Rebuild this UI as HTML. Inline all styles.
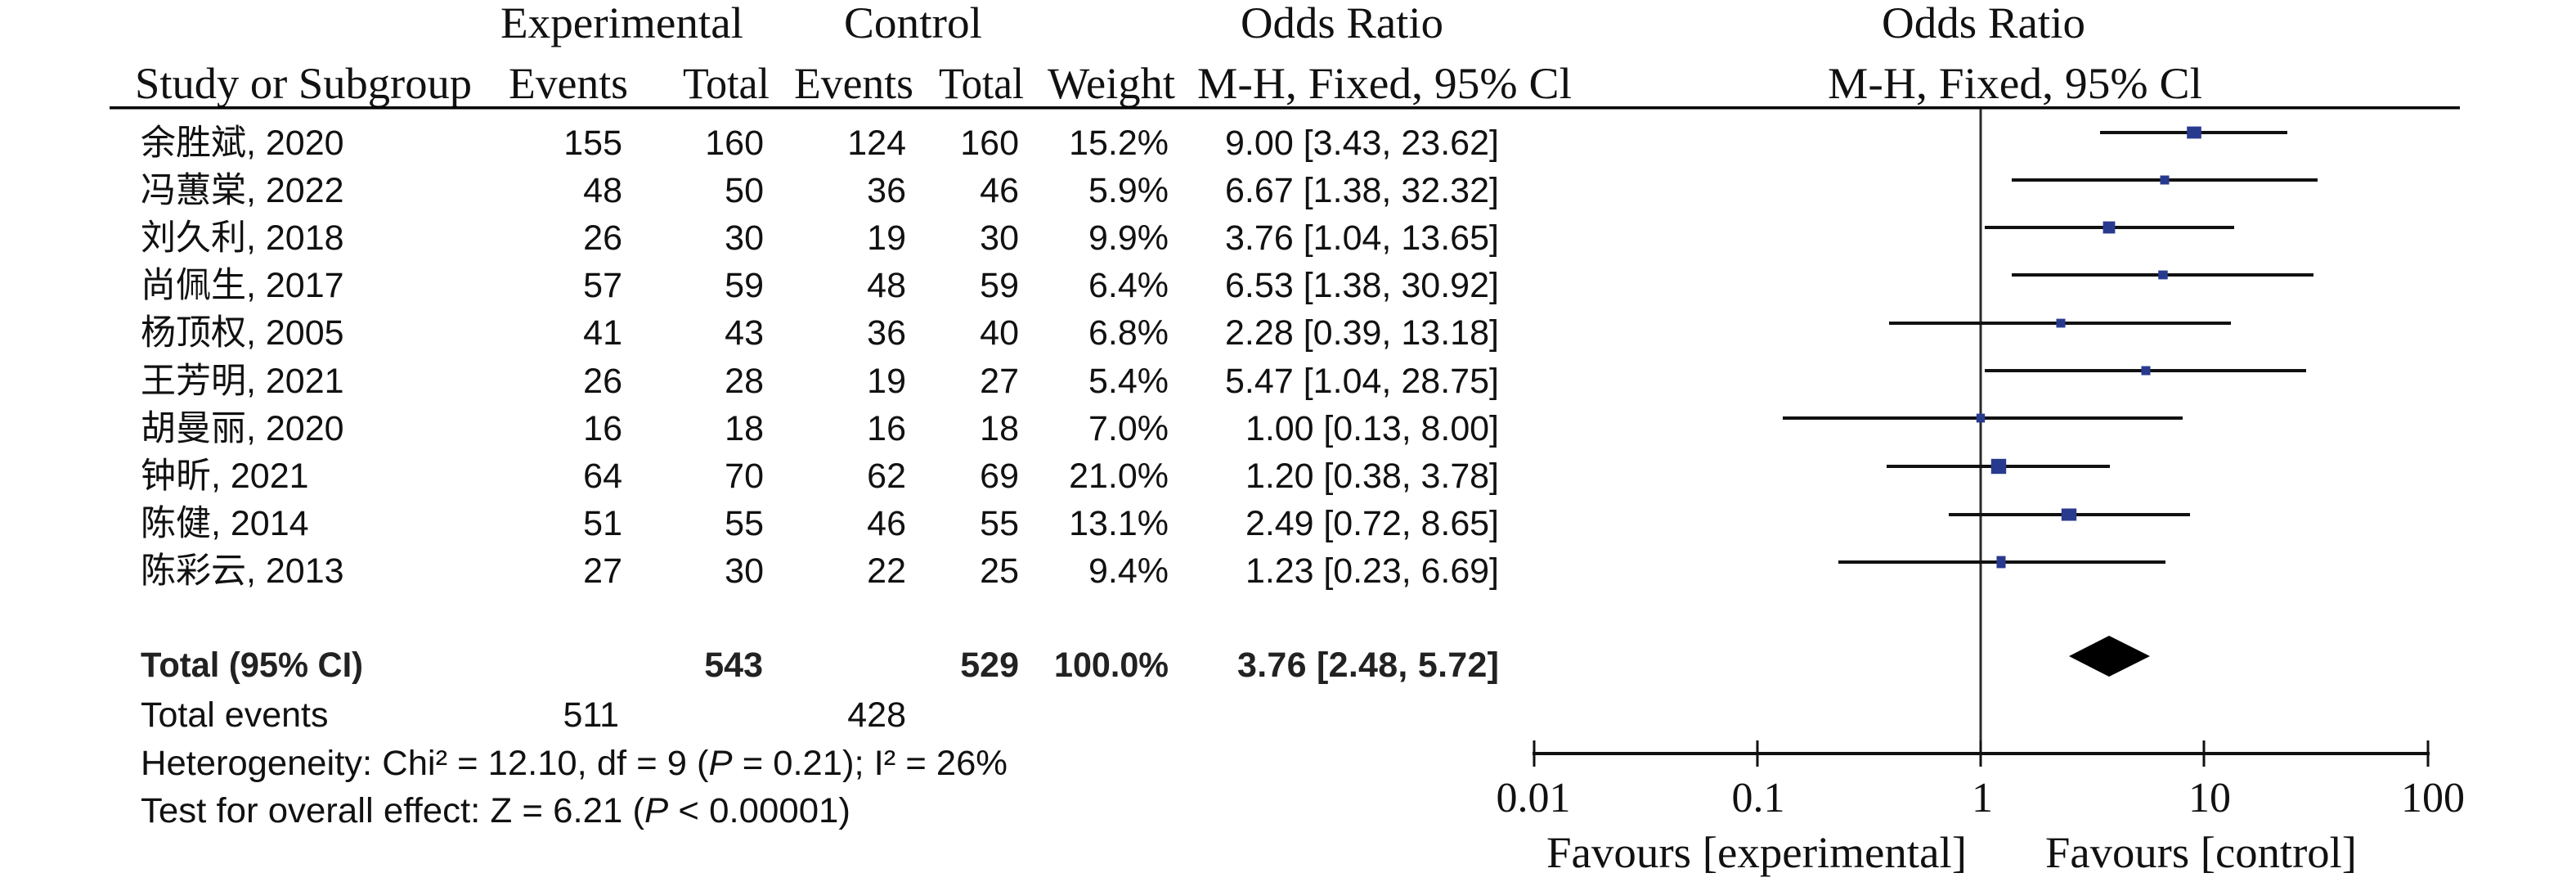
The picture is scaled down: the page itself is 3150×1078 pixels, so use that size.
<!DOCTYPE html>
<html>
<head>
<meta charset="utf-8">
<style>
  html, body { margin: 0; padding: 0; background: #fff; }
  svg { display: block; }
</style>
</head>
<body>
<svg xmlns="http://www.w3.org/2000/svg" width="3150" height="1078" viewBox="0 0 3150 1078">
  <rect x="0" y="0" width="3150" height="1078" fill="#fff"/>

  <!-- Header (serif) -->
  <g font-family="'Liberation Serif', 'Times New Roman', serif" font-size="54" fill="#111" lengthAdjust="spacingAndGlyphs">
    <text x="612" y="46" textLength="297" lengthAdjust="spacingAndGlyphs">Experimental</text>
    <text x="1032" y="46" textLength="169" lengthAdjust="spacingAndGlyphs">Control</text>
    <text x="1517" y="46" textLength="248" lengthAdjust="spacingAndGlyphs">Odds Ratio</text>
    <text x="2301" y="46" textLength="249" lengthAdjust="spacingAndGlyphs">Odds Ratio</text>

    <text x="165" y="120" textLength="412" lengthAdjust="spacingAndGlyphs">Study or Subgroup</text>
    <text x="622" y="120" textLength="146" lengthAdjust="spacingAndGlyphs">Events</text>
    <text x="835" y="120" textLength="106" lengthAdjust="spacingAndGlyphs">Total</text>
    <text x="971" y="120" textLength="146" lengthAdjust="spacingAndGlyphs">Events</text>
    <text x="1148" y="120" textLength="104" lengthAdjust="spacingAndGlyphs">Total</text>
    <text x="1281" y="120" textLength="156" lengthAdjust="spacingAndGlyphs">Weight</text>
    <text x="1464" y="120" textLength="458" lengthAdjust="spacingAndGlyphs">M-H, Fixed, 95% Cl</text>
    <text x="2235" y="120" textLength="458" lengthAdjust="spacingAndGlyphs">M-H, Fixed, 95% Cl</text>
  </g>

  <!-- Header underline -->
  <rect x="134" y="130" width="2874" height="3.5" fill="#000"/>

  <!-- Study names -->
  <g font-family="'Liberation Sans', 'Noto Sans CJK SC', sans-serif" font-size="43" fill="#111">
    <text x="172" y="189">余胜斌, 2020</text>
    <text x="172" y="247">冯蕙棠, 2022</text>
    <text x="172" y="305">刘久利, 2018</text>
    <text x="172" y="363">尚佩生, 2017</text>
    <text x="172" y="421">杨顶权, 2005</text>
    <text x="172" y="480">王芳明, 2021</text>
    <text x="172" y="538">胡曼丽, 2020</text>
    <text x="172" y="596">钟昕, 2021</text>
    <text x="172" y="654">陈健, 2014</text>
    <text x="172" y="712">陈彩云, 2013</text>
  </g>

  <!-- Numeric columns -->
  <g font-family="'Liberation Sans', sans-serif" font-size="43" fill="#111" text-anchor="end">
    <!-- Exp events -->
    <text x="761" y="189">155</text>
    <text x="761" y="247">48</text>
    <text x="761" y="305">26</text>
    <text x="761" y="363">57</text>
    <text x="761" y="421">41</text>
    <text x="761" y="480">26</text>
    <text x="761" y="538">16</text>
    <text x="761" y="596">64</text>
    <text x="761" y="654">51</text>
    <text x="761" y="712">27</text>
    <!-- Exp total -->
    <text x="934" y="189">160</text>
    <text x="934" y="247">50</text>
    <text x="934" y="305">30</text>
    <text x="934" y="363">59</text>
    <text x="934" y="421">43</text>
    <text x="934" y="480">28</text>
    <text x="934" y="538">18</text>
    <text x="934" y="596">70</text>
    <text x="934" y="654">55</text>
    <text x="934" y="712">30</text>
    <!-- Ctrl events -->
    <text x="1108" y="189">124</text>
    <text x="1108" y="247">36</text>
    <text x="1108" y="305">19</text>
    <text x="1108" y="363">48</text>
    <text x="1108" y="421">36</text>
    <text x="1108" y="480">19</text>
    <text x="1108" y="538">16</text>
    <text x="1108" y="596">62</text>
    <text x="1108" y="654">46</text>
    <text x="1108" y="712">22</text>
    <!-- Ctrl total -->
    <text x="1246" y="189">160</text>
    <text x="1246" y="247">46</text>
    <text x="1246" y="305">30</text>
    <text x="1246" y="363">59</text>
    <text x="1246" y="421">40</text>
    <text x="1246" y="480">27</text>
    <text x="1246" y="538">18</text>
    <text x="1246" y="596">69</text>
    <text x="1246" y="654">55</text>
    <text x="1246" y="712">25</text>
    <!-- Weight -->
    <text x="1429" y="189">15.2%</text>
    <text x="1429" y="247">5.9%</text>
    <text x="1429" y="305">9.9%</text>
    <text x="1429" y="363">6.4%</text>
    <text x="1429" y="421">6.8%</text>
    <text x="1429" y="480">5.4%</text>
    <text x="1429" y="538">7.0%</text>
    <text x="1429" y="596">21.0%</text>
    <text x="1429" y="654">13.1%</text>
    <text x="1429" y="712">9.4%</text>
    <!-- OR [CI] -->
    <text x="1833" y="189" textLength="335">9.00 [3.43, 23.62]</text>
    <text x="1833" y="247" textLength="335">6.67 [1.38, 32.32]</text>
    <text x="1833" y="305" textLength="335">3.76 [1.04, 13.65]</text>
    <text x="1833" y="363" textLength="335">6.53 [1.38, 30.92]</text>
    <text x="1833" y="421" textLength="335">2.28 [0.39, 13.18]</text>
    <text x="1833" y="480" textLength="335">5.47 [1.04, 28.75]</text>
    <text x="1833" y="538" textLength="310">1.00 [0.13, 8.00]</text>
    <text x="1833" y="596" textLength="310">1.20 [0.38, 3.78]</text>
    <text x="1833" y="654" textLength="310">2.49 [0.72, 8.65]</text>
    <text x="1833" y="712" textLength="310">1.23 [0.23, 6.69]</text>
  </g>

  <!-- Total row (bold) -->
  <g font-family="'Liberation Sans', sans-serif" font-size="43" font-weight="bold" fill="#222">
    <text x="172" y="827" textLength="272" lengthAdjust="spacingAndGlyphs">Total (95% CI)</text>
    <text x="933" y="827" text-anchor="end">543</text>
    <text x="1246" y="827" text-anchor="end">529</text>
    <text x="1429" y="827" text-anchor="end" textLength="140" lengthAdjust="spacingAndGlyphs">100.0%</text>
    <text x="1833" y="827" text-anchor="end" textLength="320">3.76 [2.48, 5.72]</text>
  </g>

  <!-- Bottom stats -->
  <g font-family="'Liberation Sans', sans-serif" font-size="43" fill="#111">
    <text x="172" y="888">Total events</text>
    <text x="757" y="888" text-anchor="end">511</text>
    <text x="1108" y="888" text-anchor="end">428</text>
    <text x="172" y="947" textLength="1060" lengthAdjust="spacingAndGlyphs">Heterogeneity: Chi² = 12.10, df = 9 (<tspan font-style="italic">P</tspan> = 0.21); I² = 26%</text>
    <text x="172" y="1005" textLength="868" lengthAdjust="spacingAndGlyphs">Test for overall effect: Z = 6.21 (<tspan font-style="italic">P</tspan> &lt; 0.00001)</text>
  </g>

  <!-- Plot: vertical line of no effect -->
  <rect x="2420.5" y="133" width="3" height="788" fill="#2a2a2a"/>

  <!-- CI lines -->
  <g stroke="#111" stroke-width="4">
    <line x1="2568" y1="162" x2="2797" y2="162"/>
    <line x1="2460" y1="220" x2="2834" y2="220"/>
    <line x1="2427" y1="278" x2="2732" y2="278"/>
    <line x1="2460" y1="336" x2="2829" y2="336"/>
    <line x1="2310" y1="395" x2="2728" y2="395"/>
    <line x1="2427" y1="453" x2="2820" y2="453"/>
    <line x1="2180" y1="511" x2="2669" y2="511"/>
    <line x1="2307" y1="570" x2="2580" y2="570"/>
    <line x1="2383" y1="629" x2="2678" y2="629"/>
    <line x1="2248" y1="687" x2="2648" y2="687"/>
  </g>

  <!-- Squares -->
  <g fill="#283a8e">
    <rect x="2674.2" y="154.6" width="17.6" height="14.8"/>
    <rect x="2641.5" y="214.5" width="11" height="11"/>
    <rect x="2571.6" y="270.6" width="14.8" height="14.8"/>
    <rect x="2639.2" y="330.6" width="11.5" height="10.8"/>
    <rect x="2514.5" y="389.6" width="11" height="10.8"/>
    <rect x="2618.5" y="447.5" width="11" height="11"/>
    <rect x="2416.8" y="505.6" width="10.4" height="10.8"/>
    <rect x="2434.8" y="560.8" width="18.4" height="18.4"/>
    <rect x="2520.8" y="621.5" width="18.4" height="15"/>
    <rect x="2441.5" y="679.6" width="11" height="14.8"/>
  </g>

  <!-- Total diamond -->
  <polygon points="2530,802 2579,777 2629,802 2579,827" fill="#000"/>

  <!-- Axis -->
  <rect x="1874" y="919" width="1097" height="4" fill="#111"/>
  <g fill="#111">
    <rect x="1874.5" y="905" width="3" height="32"/>
    <rect x="2147.5" y="905" width="3" height="32"/>
    <rect x="2420.5" y="905" width="3" height="32"/>
    <rect x="2693.5" y="905" width="3" height="32"/>
    <rect x="2967.5" y="905" width="3" height="32"/>
  </g>

  <g font-family="'Liberation Serif', 'Times New Roman', serif" font-size="52" fill="#111" text-anchor="middle">
    <text x="1875" y="992">0.01</text>
    <text x="2150" y="992">0.1</text>
    <text x="2424" y="992">1</text>
    <text x="2702" y="992">10</text>
    <text x="2975" y="992">100</text>
  </g>
  <g font-family="'Liberation Serif', 'Times New Roman', serif" font-size="54" fill="#111">
    <text x="1891" y="1060" textLength="514" lengthAdjust="spacingAndGlyphs">Favours [experimental]</text>
    <text x="2501" y="1060" textLength="381" lengthAdjust="spacingAndGlyphs">Favours [control]</text>
  </g>
</svg>
</body>
</html>
